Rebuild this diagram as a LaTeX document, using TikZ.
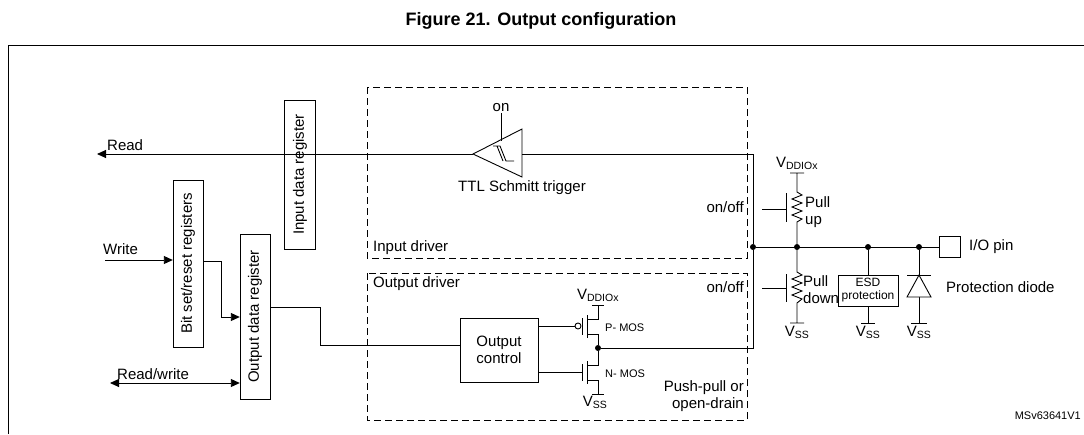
\documentclass[tikz,border=0pt]{standalone}
\usepackage{fontspec}
\setmainfont{Liberation Sans}
\usetikzlibrary{arrows.meta}

\begin{document}
\begin{tikzpicture}[x=1pt,y=-1pt,
    reg/.style={draw, rectangle, inner sep=0pt, font=\fontsize{15}{17}\selectfont},
    lbl/.style={inner sep=1pt, font=\fontsize{15}{17}\selectfont},
    sml/.style={inner sep=1pt, font=\fontsize{11}{13}\selectfont},
    drv/.style={draw, dashed, dash pattern=on 7pt off 4pt, line width=0.8pt},
    wire/.style={line width=0.9pt},
    dot/.style={circle, fill, inner sep=0pt, minimum size=6pt},
    arr/.style={-{Triangle[length=9pt,width=8pt]}}]
    \useasboundingbox (0,0) rectangle (1084,434);
    % Title and frame
    \node[font=\fontsize{18}{20}\bfseries\selectfont] (title) at (541,21) {Figure 21. Output configuration};
    \draw[line width=1pt] (8,434) -- (8,45) -- (1084,45);
    \node[sml, anchor=east] (ref) at (1082,416) {MSv63641V1};

    % Driver boxes
    \draw[drv] (367,87) rectangle (747,258);
    \draw[drv] (367,273) rectangle (747,420);
    \node[lbl, anchor=south west] (indrv) at (372,256) {Input driver};
    \node[lbl, anchor=north west] (outdrv) at (372,275) {Output driver};
    \node[lbl, anchor=east] (onoffa) at (745,207) {on/off};
    \node[lbl, anchor=east] (onoffb) at (745,287) {on/off};
    \node[lbl, anchor=east, align=right] (pp) at (745,396) {Push-pull or\\open-drain};

    % Registers
    \node[reg, minimum width=31pt, minimum height=149pt] (idr) at (300,174.5) {\rotatebox{90}{Input data register}};
    \node[reg, minimum width=30pt, minimum height=167pt] (bsr) at (188,263.5) {\rotatebox{90}{Bit set/reset registers}};
    \node[reg, minimum width=30pt, minimum height=165pt] (odr) at (255,316.5) {\rotatebox{90}{Output data register}};
    \node[reg, minimum width=78pt, minimum height=64pt, align=center] (ctl) at (499,350) {Output\\control};

    % Left side signals
    \coordinate (readend) at (97,154);
    \coordinate (writestart) at (105,260);
    \coordinate (rwstart) at (110,383);
    \node[lbl, anchor=south west] (read) at (106,152) {Read};
    \node[lbl, anchor=south west] (write) at (102,256) {Write};
    \node[lbl, anchor=south west] (rw) at (116,381) {Read/write};
    \draw[wire, arr] (writestart) -- (writestart -| bsr.west);
    \draw[wire, arr] (bsr.east |- 0,261) -- (221,261) -- (221,317) -- (odr.west |- 0,317);
    \draw[wire, {Triangle[length=9pt,width=8pt]}-{Triangle[length=9pt,width=8pt]}] (rwstart) -- (rwstart -| odr.west);
    \draw[wire] (odr.east |- 0,307) -- (320,307) -- (320,345) -- (ctl.west |- 0,345);

    % Schmitt trigger
    \coordinate (tip) at (473,154);
    \draw[wire] (tip) -- (522,129) -- (522,177) -- cycle;
    \draw[wire] (493,146) -- (500,146) -- (506,161) -- (514,161) (497,146) -- (503,161);
    \node[lbl] (on) at (501,108) {on};
    \draw[wire] (on.south) -- (501,141);
    \node[lbl] (ttl) at (522,188) {TTL Schmitt trigger};
    \draw[wire] (522,154) -- (753,154) coordinate (c1);
    \draw[wire, arr] (tip) -- (readend);

    % Push-pull stage
    \node[dot] (mid) at (598,348) {};
    \node[dot] (j0) at (753,247) {};
    \draw[wire] (c1) -- (j0) -- (753,348) -- (mid);
    \draw[wire] (ctl.east |- 0,326) -- (575,326);
    \draw[wire] (578,326) circle (3);
    \draw[wire] (582,318) -- (582,335) (587,315) -- (587,338);
    \draw[wire] (587,319) -- (598,319) -- (598,305) (592,305) -- (604,305);
    \draw[wire] (587,334) -- (598,334) -- (mid);
    \node[lbl, anchor=south] (vdda) at (598,303) {V\textsubscript{DDIOx}};
    \node[sml, anchor=west] (pmos) at (604,328) {P- MOS};
    \draw[wire] (ctl.east |- 0,372) -- (582,372);
    \draw[wire] (582,364) -- (582,381) (587,361) -- (587,384);
    \draw[wire] (mid) -- (598,365) -- (587,365) (587,380) -- (598,380) -- (598,394) (592,394) -- (604,394);
    \node[lbl, anchor=north] (vssa) at (595,395) {V\textsubscript{SS}};
    \node[sml, anchor=west] (nmos) at (604,374) {N- MOS};

    % Pull-up / pull-down and pin
    \node[dot] (j1) at (797,247) {};
    \node[dot] (j2) at (868,247) {};
    \node[dot] (j3) at (919,247) {};
    \node[draw, wire, minimum size=21pt, inner sep=0pt] (pin) at (950,247) {};
    \node[lbl, anchor=west] (pinlbl) at (968,247) {I/O pin};
    \draw[wire] (j0) -- (pin.west);
    \node[lbl, anchor=south] (vddb) at (797,171) {V\textsubscript{DDIOx}};
    \draw[wire] (790,173) -- (804,173) (797,173) -- (797,192) -- (802,195) -- (792,199) -- (802,203) -- (792,207) -- (802,211) -- (792,215) -- (802,219) -- (797,222) -- (j1);
    \draw[wire] (786,193) -- (786,222) (762,209) -- (786,209);
    \node[lbl, anchor=west, align=left] (pu) at (804,212) {Pull\\ up};
    \draw[wire] (j1) -- (797,272) -- (802,275) -- (792,279) -- (802,283) -- (792,287) -- (802,291) -- (792,295) -- (802,299) -- (797,303) -- (797,323) (790,323) -- (804,323);
    \draw[wire] (786,274) -- (786,302) (762,288) -- (786,288);
    \node[lbl, anchor=west, align=left] (pd) at (802,290) {Pull\\down};
    \node[draw, wire, minimum width=60pt, minimum height=31pt, inner sep=0pt, align=center, font=\fontsize{12}{13}\selectfont] (esd) at (868,290.5) {ESD\\protection};
    \draw[wire] (j2) -- (esd.north) (esd.south) -- (868,323) (861,323) -- (875,323);
    \draw[wire] (j3) -- (919,323) (911,323) -- (927,323);
    \draw[wire, fill=white] (919,275) -- (931,297) -- (907,297) -- cycle;
    \draw[wire] (907,275) -- (931,275);
    \node[lbl, anchor=west] (pdiode) at (945,287) {Protection diode};
    \foreach \x/\n in {797/vssb, 868/vssc, 919/vssd}
        \node[lbl, anchor=north] (\n) at (\x,325) {V\textsubscript{SS}};
\end{tikzpicture}
\end{document}
